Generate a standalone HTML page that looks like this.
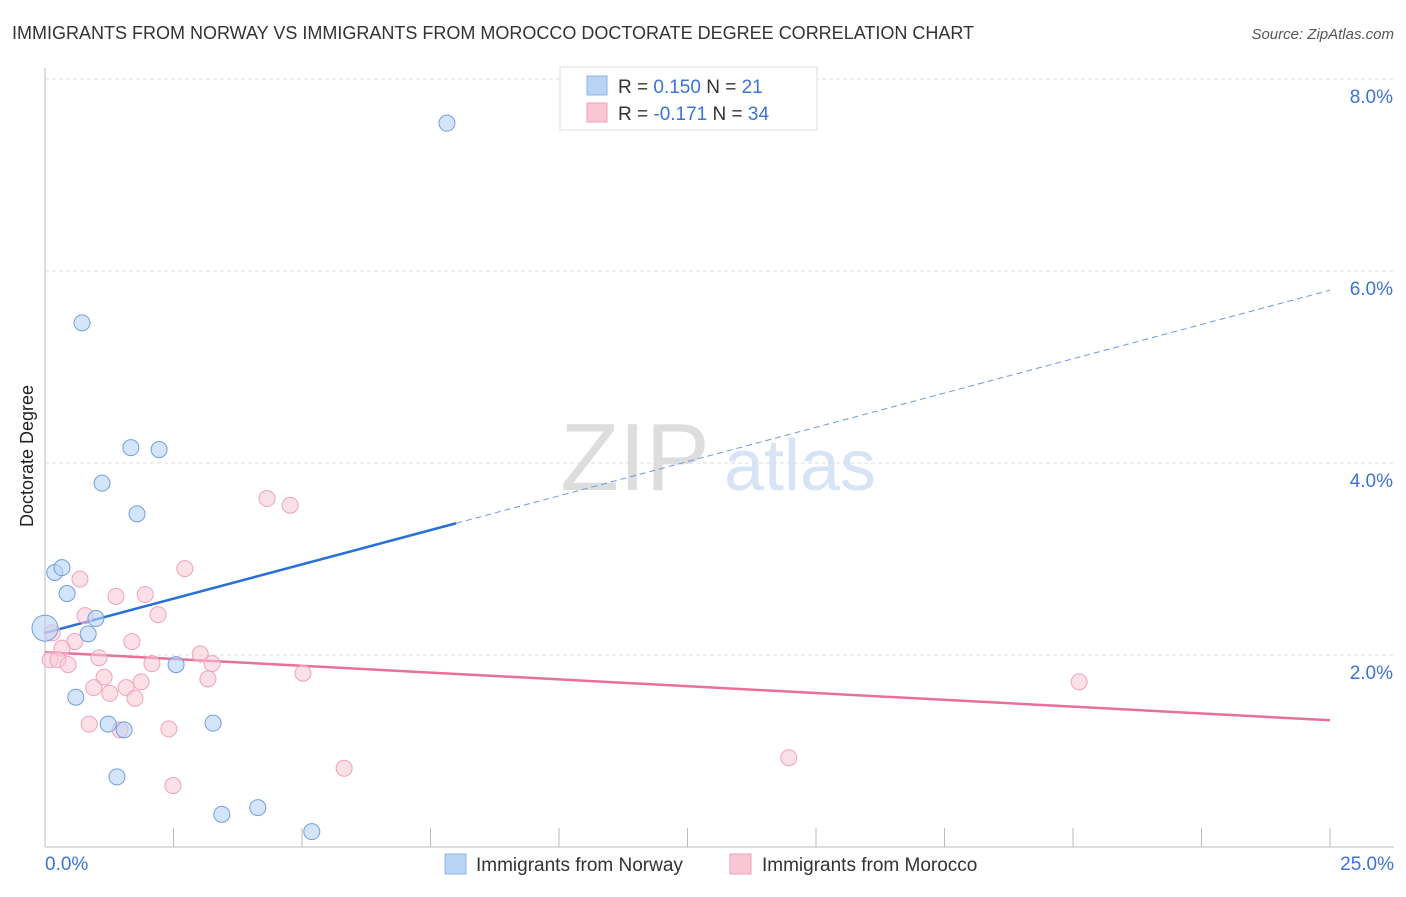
<!DOCTYPE html>
<html><head><meta charset="utf-8"><style>
body{margin:0;background:#fff;font-family:"Liberation Sans",sans-serif;}
svg text{font-family:"Liberation Sans",sans-serif;}
</style></head><body>
<svg id="c" width="1406" height="892" xmlns="http://www.w3.org/2000/svg">
<text x="12" y="39" font-size="18" fill="#333">IMMIGRANTS FROM NORWAY VS IMMIGRANTS FROM MOROCCO DOCTORATE DEGREE CORRELATION CHART</text>
<text x="1394" y="39" font-size="15" fill="#555" font-style="italic" text-anchor="end">Source: ZipAtlas.com</text>
<text x="635" y="490" font-size="96" fill="#ddd" font-family="Liberation Serif" text-anchor="middle">ZIP</text>
<text x="800" y="490" font-size="72" fill="#d6e4f5" text-anchor="middle">atlas</text>
<g id="grid"></g><g id="axes"></g><g id="lines"></g><g id="pts"></g>
<text transform="translate(33,456) rotate(-90)" font-size="18" fill="#222" text-anchor="middle">Doctorate Degree</text>
<g>
<rect x="560" y="67" width="257" height="63" fill="#fff" stroke="#ddd"/>
<rect x="587" y="76" width="20" height="19" fill="#b9d3f5" stroke="#8fb5e8"/>
<rect x="587" y="103" width="20" height="19" fill="#f9c6d6" stroke="#f0a0b8"/>
<text x="618" y="93" font-size="19" fill="#333">R = <tspan fill="#3a74d6">0.150</tspan>   N = <tspan fill="#3a74d6"> 21</tspan></text>
<text x="618" y="120" font-size="19" fill="#333">R = <tspan fill="#3a74d6">-0.171</tspan>   N = <tspan fill="#3a74d6">34</tspan></text>
</g>
<g>
<rect x="445" y="854" width="21" height="20" fill="#b9d3f5" stroke="#8fb5e8"/>
<text x="476" y="871" font-size="19" fill="#333">Immigrants from Norway</text>
<rect x="730" y="854" width="21" height="20" fill="#f9c6d6" stroke="#f0a0b8"/>
<text x="762" y="871" font-size="19" fill="#333">Immigrants from Morocco</text>
</g>
</svg>
<script>
const norwayX=[7.82,0.72,1.67,2.22,1.11,1.79,0.19,0.33,0.43,0.99,0.84,0,2.55,0.60,1.23,1.54,3.27,1.40,3.44,4.14,5.19];
const norwayY=[7.54,5.46,4.16,4.14,3.79,3.47,2.86,2.91,2.64,2.38,2.22,2.28,1.90,1.56,1.28,1.22,1.29,0.73,0.34,0.41,0.16];
const moroccoX=[4.32,4.77,0.68,2.72,1.38,1.95,0.78,2.20,0.14,0.58,1.69,0.33,0.10,0.25,0.45,1.05,2.08,3.02,3.25,5.02,1.15,3.17,1.87,0.95,1.58,1.26,1.75,0.86,1.46,2.41,2.49,5.82,14.47,20.12];
const moroccoY=[3.63,3.56,2.79,2.90,2.61,2.63,2.41,2.42,2.23,2.14,2.14,2.07,1.95,1.95,1.90,1.97,1.91,2.01,1.91,1.81,1.77,1.75,1.72,1.66,1.66,1.60,1.55,1.28,1.22,1.23,0.64,0.82,0.93,1.72];
const yTicks=[2,4,6,8];
const yTickLabels=["2.0%","4.0%","6.0%","8.0%"];
const xTickLabels=["0.0%","25.0%"];
const norwayTrend=[2.23,5.80];
const moroccoTrend=[2.03,1.32];
const NS="http://www.w3.org/2000/svg";
const X=v=>45+v*51.4, Y=v=>847-v*96;
function mk(p,t,a){const e=document.createElementNS(NS,t);for(const k in a)e.setAttribute(k,a[k]);document.getElementById(p).appendChild(e);return e;}
yTicks.forEach((t,i)=>{
 const g=mk('grid','line',{x1:45,x2:1394,y1:Y(t),y2:Y(t),stroke:'#ddd','stroke-dasharray':'4,3'});
 
 
 const l=mk('grid','text',{x:1393,y:Y(t)+24,'font-size':19,fill:'#3a74d6','text-anchor':'end'});l.textContent=yTickLabels[i];
 
 
});
const ax=mk('axes','line',{x1:45,x2:45,y1:68,y2:847,stroke:'#bbb'});


const bx=mk('axes','line',{x1:45,x2:1394,y1:847,y2:847,stroke:'#bbb'});


for(let i=1;i<=10;i++){const t=mk('axes','line',{x1:X(i*2.5),x2:X(i*2.5),y1:828,y2:847,stroke:'#bbb'});
 
 }
[[0,'start',45],[25,'end',1394]].forEach((d,i)=>{const l=mk('axes','text',{x:d[2],y:870,'font-size':19,fill:'#3a74d6','text-anchor':d[1]});l.textContent=xTickLabels[i];
 
 });
const nEnd=8.0, nAt=v=>norwayTrend[0]+(norwayTrend[1]-norwayTrend[0])*v/25;
let l1=mk('lines','line',{x1:X(0),y1:Y(nAt(0)),x2:X(nEnd),y2:Y(nAt(nEnd)),stroke:'#2a6fd6','stroke-width':2.5});


let l2=mk('lines','line',{x1:X(nEnd),y1:Y(nAt(nEnd)),x2:X(25),y2:Y(nAt(25)),stroke:'#6a9ae0','stroke-width':1,'stroke-dasharray':'6,4'});


let l3=mk('lines','line',{x1:X(0),y1:Y(moroccoTrend[0]),x2:X(25),y2:Y(moroccoTrend[1]),stroke:'#e8709a','stroke-width':2.5});


moroccoX.forEach((x,i)=>{const c=mk('pts','circle',{cx:X(x),cy:Y(moroccoY[i]),r:8,fill:'rgba(249,198,214,0.55)',stroke:'#eea3bb','stroke-width':1});
 
 });
norwayX.forEach((x,i)=>{const c=mk('pts','circle',{cx:X(x),cy:Y(norwayY[i]),r:i==11?13:8,fill:'rgba(185,211,245,0.6)',stroke:'#6f9fdc','stroke-width':1});
 
 });
</script>
</body></html>
